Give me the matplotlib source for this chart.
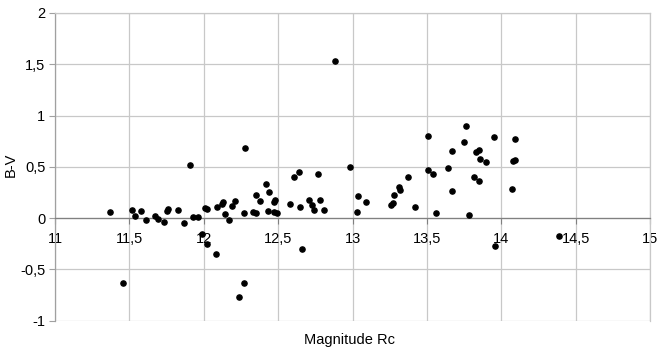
import matplotlib.pyplot as plt
from matplotlib.ticker import FuncFormatter, MultipleLocator

# magnitude Rc and colour index B-V for each star
mag_rc = [11.37, 11.46, 11.52, 11.54, 11.58, 11.61, 11.67, 11.69, 11.73, 11.75,
          11.76, 11.83, 11.87, 11.91, 11.93, 11.96, 11.99, 12.01, 12.02, 12.02,
          12.08, 12.09, 12.12, 12.13, 12.14, 12.17, 12.19, 12.21, 12.24, 12.27,
          12.27, 12.28, 12.33, 12.35, 12.35, 12.38, 12.42, 12.43, 12.44, 12.47,
          12.48, 12.47, 12.49, 12.58, 12.61, 12.64, 12.65, 12.66, 12.71, 12.73,
          12.74, 12.77, 12.78, 12.81, 12.88, 12.98, 13.03, 13.04, 13.09, 13.26,
          13.27, 13.28, 13.31, 13.32, 13.37, 13.42, 13.51, 13.51, 13.54, 13.56,
          13.64, 13.67, 13.67, 13.75, 13.76, 13.78, 13.82, 13.83, 13.85, 13.85,
          13.86, 13.90, 13.95, 13.96, 14.07, 14.08, 14.09, 14.09, 14.39]
b_v = [0.06, -0.63, 0.08, 0.02, 0.07, -0.02, 0.02, -0.01, -0.04, 0.07,
       0.09, 0.08, -0.05, 0.52, 0.01, 0.01, -0.15, 0.10, 0.09, -0.25,
       -0.35, 0.11, 0.14, 0.155, 0.04, -0.02, 0.12, 0.17, -0.77, 0.05,
       -0.63, 0.68, 0.06, 0.05, 0.23, 0.17, 0.33, 0.07, 0.25, 0.16,
       0.18, 0.06, 0.05, 0.14, 0.40, 0.45, 0.11, -0.30, 0.18, 0.13,
       0.08, 0.43, 0.18, 0.08, 1.535, 0.50, 0.06, 0.22, 0.16, 0.13,
       0.15, 0.23, 0.30, 0.27, 0.40, 0.11, 0.80, 0.47, 0.43, 0.05,
       0.49, 0.65, 0.26, 0.74, 0.90, 0.03, 0.40, 0.64, 0.66, 0.36,
       0.58, 0.545, 0.79, -0.27, 0.28, 0.56, 0.57, 0.77, -0.17]

plt.rcParams['font.family'] = ['Liberation Sans', 'DejaVu Sans']

fig = plt.figure(figsize=(6.57, 3.5), dpi=100)
ax = fig.add_axes([55/657, 1 - 320.7/350, 595/657, 307.7/350])

ax.scatter(mag_rc, b_v, s=14, color='black', zorder=3, clip_on=False)

ax.set_xlim(11, 15)
ax.set_ylim(-1, 2)
ax.xaxis.set_major_locator(MultipleLocator(0.5))
ax.yaxis.set_major_locator(MultipleLocator(0.5))

comma = FuncFormatter(lambda v, p: ('%g' % v).replace('.', ','))
ax.xaxis.set_major_formatter(comma)
ax.yaxis.set_major_formatter(comma)

ax.grid(True, color='#c8c8c8', linewidth=0.9, zorder=0)
ax.set_axisbelow(True)

# x axis runs through y = 0
ax.spines['bottom'].set_position(('data', 0))
ax.spines['bottom'].set_color('#808080')
ax.spines['left'].set_color('#a0a0a0')
ax.spines['top'].set_color('#c8c8c8')
ax.spines['right'].set_color('#c8c8c8')
for s in ['bottom', 'left', 'top', 'right']:
    ax.spines[s].set_linewidth(0.9)

ax.tick_params(axis='x', direction='out', length=4, color='#808080',
               labelsize=10.5, pad=6)
ax.tick_params(axis='y', direction='out', length=4, color='#a0a0a0',
               labelsize=10.5, pad=3)

fig.text(350/657, 1 - 340/350, 'Magnitude Rc', ha='center', va='center',
         fontsize=10.5)
fig.text(11/657, 1 - 165/350, 'B-V', ha='center', va='center',
         rotation=90, fontsize=10.5)

fig.savefig('out.png', dpi=100)
